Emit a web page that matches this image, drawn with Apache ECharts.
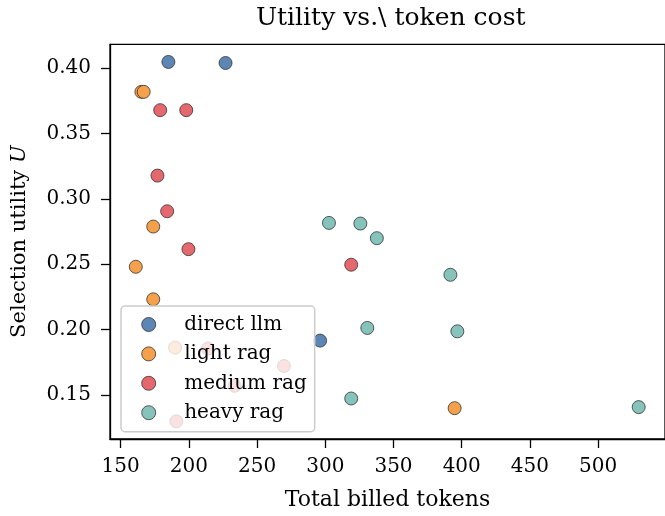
<!DOCTYPE html>
<html lang="en">
<head>
    <meta charset="UTF-8">
    <title>Utility vs. token cost</title>
    <script type="text/javascript" src="https://cdn.jsdelivr.net/npm/echarts@6/dist/echarts.min.js"></script>
    <style>
        html, body { margin: 0; padding: 0; background: #fff; }
    </style>
</head>
<body>
    <div id="main" style="width: 665px; height: 516px"></div>
    <script>
        // [tokens, utility] per configuration
        var directLlm = [[185.0, 0.4048], [226.9, 0.4040], [296.2, 0.1915]];
        var lightRag = [[165.2, 0.3819], [166.9, 0.3819], [173.9, 0.2788], [161.1, 0.2480],
                        [173.9, 0.2231], [189.9, 0.1862], [394.8, 0.1398]];
        var mediumRag = [[179.0, 0.3679], [198.1, 0.3679], [177.0, 0.3178], [184.1, 0.2905],
                         [199.7, 0.2615], [319.0, 0.2496], [214.0, 0.1854], [269.7, 0.1721],
                         [233.6, 0.1569], [190.8, 0.1297]];
        var heavyRag = [[302.7, 0.2816], [325.7, 0.2811], [337.8, 0.2699], [391.7, 0.2419],
                        [330.8, 0.2012], [396.8, 0.1986], [319.0, 0.1472], [529.7, 0.1406]];

        var seriesNames = ['direct llm', 'light rag', 'medium rag', 'heavy rag'];
        var seriesColors = ['#5e86b5', '#f5a04a', '#e5686e', '#86c3bb'];
        var seriesData = [directLlm, lightRag, mediumRag, heavyRag];

        var xTicks = [150, 200, 250, 300, 350, 400, 450, 500, 550];
        var yTicks = [0.15, 0.20, 0.25, 0.30, 0.35, 0.40];

        var font = 'DejaVu Serif';
        var myChart = echarts.init(document.getElementById('main'));

        myChart.setOption({
            animation: false,
            title: {
                text: 'Utility vs.\\ token cost',
                left: 251,
                top: 1,
                textStyle: {fontFamily: font, fontSize: 25, fontWeight: 'normal', color: '#000'}
            },
            legend: {
                orient: 'vertical',
                left: 121,
                top: 306,
                padding: [8.5, 8, 9, 20.3],
                itemWidth: 39,
                itemHeight: 14,
                itemGap: 9.4,
                backgroundColor: 'rgba(255,255,255,0.8)',
                borderColor: '#cccccc',
                borderWidth: 1.5,
                borderRadius: 4,
                itemStyle: {borderColor: '#333', borderWidth: 0.8},
                textStyle: {fontFamily: font, fontSize: 20, color: '#000', lineHeight: 20, padding: [0, 0, 0, 11]},
                data: seriesNames
            },
            grid: {
                left: 110,
                top: 44.3,
                right: -6,
                bottom: 76,
                show: true,
                borderColor: '#000',
                borderWidth: 1.3
            },
            xAxis: {
                type: 'value',
                min: 142.2,
                max: 549.0,
                name: 'Total billed tokens',
                nameLocation: 'middle',
                nameGap: 50,
                nameTextStyle: {fontFamily: font, fontSize: 22, color: '#000'},
                axisLine: {lineStyle: {color: '#000', width: 1.3}},
                axisTick: {customValues: xTicks, length: 9, lineStyle: {color: '#000', width: 1.3}},
                axisLabel: {customValues: xTicks, margin: 18, fontFamily: font, fontSize: 20, color: '#000'},
                splitLine: {show: false}
            },
            yAxis: {
                type: 'value',
                min: 0.1162,
                max: 0.4183,
                name: 'Selection utility {i|U}',
                nameLocation: 'middle',
                nameGap: 80,
                nameTextStyle: {fontFamily: font, fontSize: 21, color: '#000',
                    rich: {i: {fontFamily: font, fontSize: 21, fontStyle: 'italic', color: '#000'}}},
                axisLine: {lineStyle: {color: '#000', width: 1.3}},
                axisTick: {customValues: yTicks, length: 9, lineStyle: {color: '#000', width: 1.3}},
                axisLabel: {customValues: yTicks, margin: 19, fontFamily: font, fontSize: 20, color: '#000',
                    formatter: function (v) { return v.toFixed(2); }},
                splitLine: {show: false}
            },
            series: seriesNames.map(function (name, i) {
                return {
                    name: name,
                    type: 'scatter',
                    data: seriesData[i],
                    symbolSize: 13,
                    itemStyle: {color: seriesColors[i], borderColor: '#333', borderWidth: 0.8, opacity: 1}
                };
            })
        });
    </script>
</body>
</html>
